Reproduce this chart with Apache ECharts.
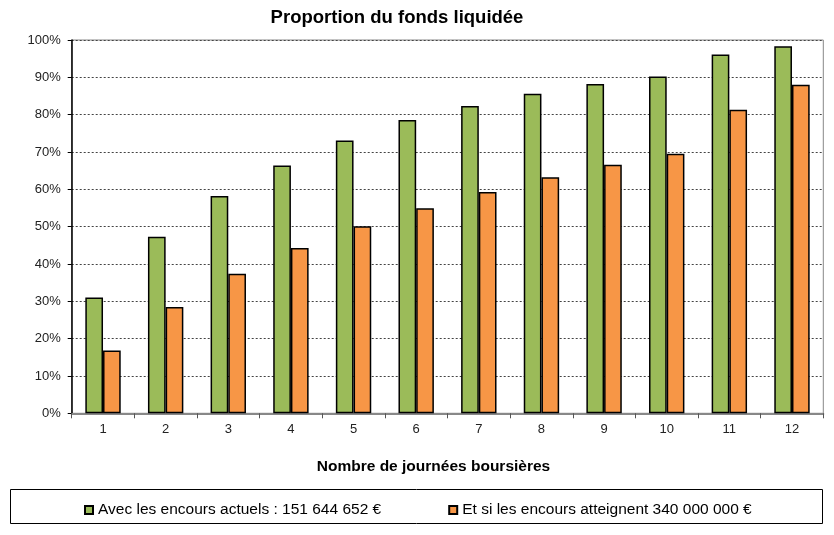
<!DOCTYPE html>
<html><head><meta charset="utf-8">
<script src="https://cdn.jsdelivr.net/npm/echarts@6/dist/echarts.min.js"></script>
<style>html,body{margin:0;padding:0;background:#fff}#c{width:834px;height:535px}</style>
</head><body><div id="c"></div>
<script>
const categories = ['1','2','3','4','5','6','7','8','9','10','11','12'];
const actuels = [31, 47.3, 58.2, 66.4, 73.1, 78.6, 82.3, 85.6, 88.2, 90.2, 96.1, 98.3];
const atteint = [16.8, 28.5, 37.4, 44.3, 50.1, 54.9, 59.3, 63.2, 66.6, 69.5, 81.3, 88.0];
const seriesNames = ['Avec les encours actuels : 151 644 652 €', 'Et si les encours atteignent 340 000 000 €'];
const FONT = 'Liberation Sans, Arial, sans-serif';
const chart = echarts.init(document.getElementById('c'));
chart.setOption({
  animation: false,
  backgroundColor: '#fff',
  textStyle: {fontFamily: FONT},
  title: {
    text: 'Proportion du fonds liquidée',
    left: 392, textAlign: 'center', top: 3,
    textStyle: {fontSize: 18.5, fontWeight: 'bold', color: '#000', fontFamily: FONT}
  },
  grid: {left: 71.7, right: 10.7, top: 40, bottom: 121.7, show: true, borderColor: '#888', borderWidth: 1, backgroundColor: 'transparent'},
  legend: {
    left: 79, top: 497,
    icon: 'rect',
    itemWidth: 8, itemHeight: 8, itemGap: 67,
    textStyle: {fontSize: 15.5, color: '#000', fontFamily: FONT},
    data: seriesNames
  },
  graphic: [{
    type: 'rect', shape: {x: 10.5, y: 489.5, width: 812, height: 34},
    style: {fill: 'none', stroke: '#000', lineWidth: 1}, z: -1
  }],
  xAxis: {
    type: 'category', data: categories,
    name: 'Nombre de journées boursières', nameLocation: 'middle', nameGap: 45,
    nameTextStyle: {fontSize: 15.5, fontWeight: 'bold', color: '#000', fontFamily: FONT, padding: [0,0,0,-28]},
    axisLine: {lineStyle: {color: '#888', width: 2}},
    axisTick: {show: true, length: 5, lineStyle: {color: '#555'}},
    axisLabel: {fontSize: 13, color: '#222', margin: 10},
    splitLine: {show: false}
  },
  yAxis: {
    type: 'value', min: 0, max: 100, interval: 10,
    axisLine: {show: true, lineStyle: {color: '#000', width: 1.5}},
    axisTick: {show: true, length: 4, lineStyle: {color: '#000'}},
    axisLabel: {fontSize: 13, color: '#222', margin: 11, formatter: '{value}%'},
    splitLine: {show: true, lineStyle: {color: '#444', type: [2, 2], width: 1}}
  },
  series: [
    {name: seriesNames[0], type: 'bar', data: actuels, barWidth: 17.7, barGap: '0%',
     itemStyle: {color: '#9BBB59', borderColor: '#000', borderWidth: 1.5}},
    {name: seriesNames[1], type: 'bar', data: atteint, barWidth: 17.7, barGap: '0%',
     itemStyle: {color: '#F79646', borderColor: '#000', borderWidth: 1.5}}
  ]
});
</script></body></html>
